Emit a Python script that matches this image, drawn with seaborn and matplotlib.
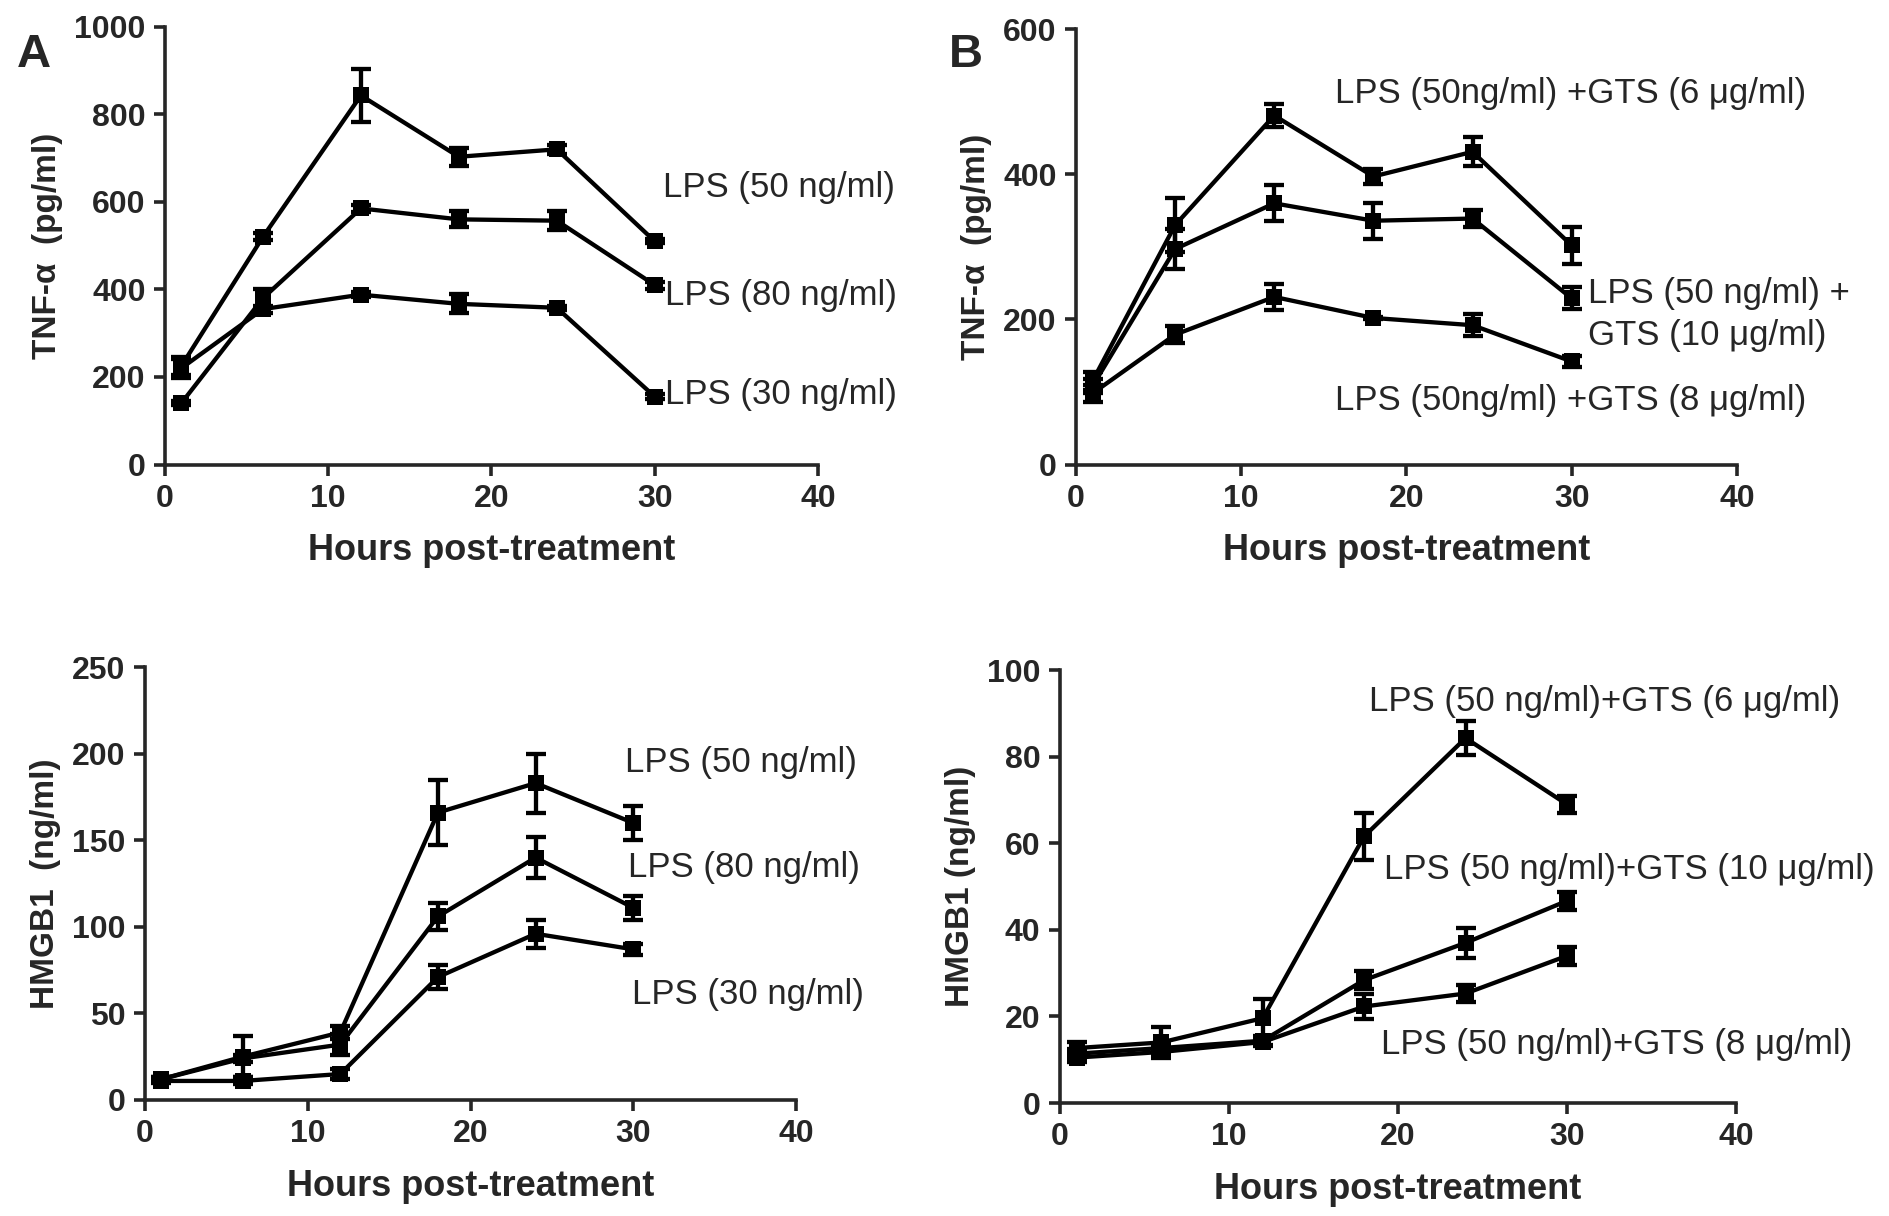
import numpy as np
import pandas as pd
import matplotlib
matplotlib.use("Agg")
import matplotlib.pyplot as plt
import seaborn as sns

sns.set_style("ticks")
plt.rcParams['font.family'] = ['Liberation Sans Narrow', 'Liberation Sans', 'DejaVu Sans']

hours = [1, 6, 12, 18, 24, 30]

# Panel A top: TNF-alpha (pg/ml), LPS doses
tnf_lps50 = [225, 520, 843, 703, 720, 510]
tnf_lps50_err = [20, 8, 60, 20, 10, 5]
tnf_lps80 = [140, 380, 585, 560, 557, 410]
tnf_lps80_err = [4, 20, 8, 18, 22, 8]
tnf_lps30 = [220, 355, 388, 367, 358, 155]
tnf_lps30_err = [22, 8, 5, 22, 5, 5]

# Panel B top: TNF-alpha (pg/ml), LPS + GTS
tnf_gts6 = [115, 330, 481, 397, 431, 302]
tnf_gts6_err = [12, 37, 16, 10, 20, 25]
tnf_gts10 = [108, 297, 360, 336, 339, 229]
tnf_gts10_err = [10, 27, 25, 25, 12, 15]
tnf_gts8 = [98, 179, 231, 202, 192, 142]
tnf_gts8_err = [12, 12, 18, 2, 15, 8]

# Panel A bottom: HMGB1 (ng/ml), LPS doses
hm_lps50 = [12, 25, 39, 166, 183, 160]
hm_lps50_err = [1, 12, 4, 19, 17, 10]
hm_lps80 = [12, 24, 32, 106, 140, 111]
hm_lps80_err = [1, 2, 6, 8, 12, 7]
hm_lps30 = [11, 11, 15, 71, 96, 87]
hm_lps30_err = [1, 2, 3, 7, 8, 3]

# Panel B bottom: HMGB1 (ng/ml), LPS + GTS
hm_gts6 = [12.7, 14.0, 19.6, 61.6, 84.3, 69.0]
hm_gts6_err = [1.5, 3.5, 4.5, 5.5, 4.0, 2.0]
hm_gts10 = [11.4, 12.7, 14.4, 28.4, 37.0, 46.7]
hm_gts10_err = [1.0, 1.0, 1.0, 2.0, 3.5, 2.0]
hm_gts8 = [10.5, 11.8, 14.1, 22.3, 25.3, 34.0]
hm_gts8_err = [1.0, 1.0, 1.0, 3.0, 2.0, 2.0]

fig = plt.figure(figsize=(18.9, 12.16), dpi=100)

ax_tl = fig.add_axes([0.0873, 0.618, 0.3455, 0.360])
ax_tr = fig.add_axes([0.5693, 0.618, 0.3497, 0.358])
ax_bl = fig.add_axes([0.0767, 0.0954, 0.3445, 0.356])
ax_br = fig.add_axes([0.5608, 0.0929, 0.3577, 0.356])

LW = 3.1

def draw_series(ax, y, err):
    df = pd.DataFrame({"h": hours, "v": y})
    sns.lineplot(data=df, x="h", y="v", ax=ax, color="black", marker="s",
                 markersize=11, markeredgewidth=0, linewidth=LW, errorbar=None)
    ax.errorbar(hours, y, yerr=err, fmt="none", ecolor="black",
                elinewidth=LW, capsize=7, capthick=LW)

def style_axis(ax, ymax, ystep, ylabel):
    ax.set_xlim(0, 40)
    ax.set_ylim(0, ymax)
    ax.set_xticks(np.arange(0, 41, 10))
    ax.set_yticks(np.arange(0, ymax + 1, ystep))
    ax.set_xlabel("Hours post-treatment", fontsize=26, fontweight="bold", labelpad=14)
    ax.set_ylabel(ylabel, fontsize=24, fontweight="bold",
                  family=["Liberation Sans", "DejaVu Sans"], labelpad=8)
    for s in ["top", "right"]:
        ax.spines[s].set_visible(False)
    for s in ["left", "bottom"]:
        ax.spines[s].set_linewidth(2.6)
    ax.tick_params(axis="both", direction="out", length=8, width=2.6,
                   labelsize=23, pad=6)
    for lab in ax.get_xticklabels() + ax.get_yticklabels():
        lab.set_fontweight("bold")

draw_series(ax_tl, tnf_lps50, tnf_lps50_err)
draw_series(ax_tl, tnf_lps80, tnf_lps80_err)
draw_series(ax_tl, tnf_lps30, tnf_lps30_err)
style_axis(ax_tl, 1000, 200, "TNF-α  (pg/ml)")

draw_series(ax_tr, tnf_gts6, tnf_gts6_err)
draw_series(ax_tr, tnf_gts10, tnf_gts10_err)
draw_series(ax_tr, tnf_gts8, tnf_gts8_err)
style_axis(ax_tr, 600, 200, "TNF-α  (pg/ml)")

draw_series(ax_bl, hm_lps50, hm_lps50_err)
draw_series(ax_bl, hm_lps80, hm_lps80_err)
draw_series(ax_bl, hm_lps30, hm_lps30_err)
style_axis(ax_bl, 250, 50, "HMGB1  (ng/ml)")

draw_series(ax_br, hm_gts6, hm_gts6_err)
draw_series(ax_br, hm_gts10, hm_gts10_err)
draw_series(ax_br, hm_gts8, hm_gts8_err)
style_axis(ax_br, 100, 20, "HMGB1 (ng/ml)")

TS = 25
def note(ax, x, y, s):
    ax.text(x, y, s, fontsize=TS, ha="left", va="center", clip_on=False)

note(ax_tl, 30.5, 633, "LPS (50 ng/ml)")
note(ax_tl, 30.6, 386, "LPS (80 ng/ml)")
note(ax_tl, 30.6, 160, "LPS (30 ng/ml)")

note(ax_tr, 15.7, 512, "LPS (50ng/ml) +GTS (6 μg/ml)")
note(ax_tr, 31.0, 236, "LPS (50 ng/ml) +")
note(ax_tr, 31.0, 178, "GTS (10 μg/ml)")
note(ax_tr, 15.7, 88, "LPS (50ng/ml) +GTS (8 μg/ml)")

note(ax_bl, 29.5, 195, "LPS (50 ng/ml)")
note(ax_bl, 29.7, 134, "LPS (80 ng/ml)")
note(ax_bl, 29.9, 61, "LPS (30 ng/ml)")

note(ax_br, 18.3, 92.8, "LPS (50 ng/ml)+GTS (6 μg/ml)")
note(ax_br, 19.2, 54, "LPS (50 ng/ml)+GTS (10 μg/ml)")
note(ax_br, 19.0, 13.6, "LPS (50 ng/ml)+GTS (8 μg/ml)")

fig.text(0.009, 0.955, "A", fontsize=34, fontweight="bold",
         family=["Liberation Sans", "DejaVu Sans"], va="center")
fig.text(0.502, 0.955, "B", fontsize=34, fontweight="bold",
         family=["Liberation Sans", "DejaVu Sans"], va="center")

fig.savefig("out.png", dpi=100)
